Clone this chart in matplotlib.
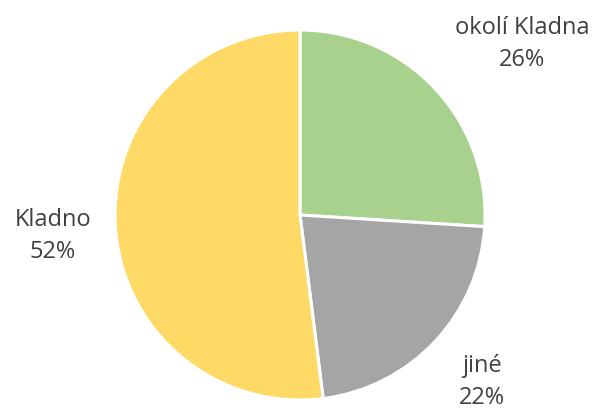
import matplotlib
matplotlib.use("Agg")
import matplotlib.pyplot as plt

labels = ["okolí Kladna", "jiné", "Kladno"]
shares = [26, 22, 52]
colors = ["#A9D18E", "#A5A5A5", "#FFD966"]

W, H = 598, 408
fig = plt.figure(figsize=(W / 100, H / 100), dpi=100)
ax = fig.add_axes([0, 0, 1, 1])

# y axis is inverted, so counterclock=True renders clockwise on screen
ax.pie(
    shares,
    colors=colors,
    startangle=-90,
    counterclock=True,
    center=(300, 215),
    radius=185,
    wedgeprops=dict(edgecolor="white", linewidth=2.2),
    frame=True,
)
ax.set_xlim(0, W)
ax.set_ylim(H, 0)
ax.set_aspect("equal")
ax.axis("off")

label_pos = {
    "okolí Kladna": (522, 44),
    "jiné": (482, 382),
    "Kladno": (53, 236),
}
for lab, val in zip(labels, shares):
    x, y = label_pos[lab]
    ax.text(x, y, f"{lab}\n{val}%", ha="center", va="center",
            fontsize=17, color="#404040", family="Open Sans",
            linespacing=1.45)

fig.savefig("out.png", dpi=100, facecolor="white")
